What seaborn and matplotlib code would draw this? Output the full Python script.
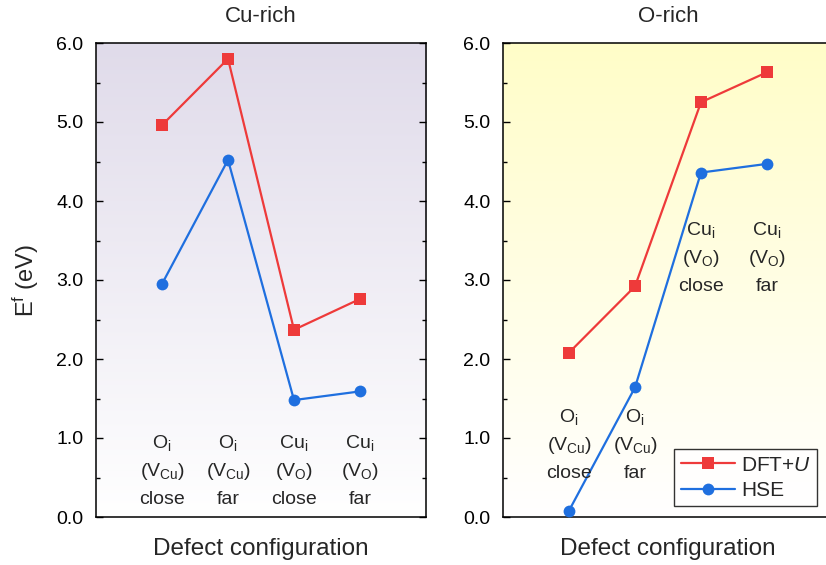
import numpy as np
import pandas as pd
import matplotlib
matplotlib.use("Agg")
import matplotlib.pyplot as plt
from matplotlib.colors import LinearSegmentedColormap
from matplotlib.ticker import MultipleLocator
import seaborn as sns

sns.set_theme(style="white")
plt.rcParams['font.family'] = ['Liberation Sans', 'DejaVu Sans']
plt.rcParams['mathtext.fontset'] = 'custom'
plt.rcParams['mathtext.rm'] = 'Liberation Sans'
plt.rcParams['mathtext.it'] = 'Liberation Sans:italic'
plt.rcParams['mathtext.bf'] = 'Liberation Sans:bold'

# ---- data ----
categories = ["Oi (VCu) close", "Oi (VCu) far", "Cui (VO) close", "Cui (VO) far"]
cu_rich_dftu = [4.96, 5.80, 2.37, 2.76]
cu_rich_hse = [2.95, 4.52, 1.48, 1.59]
o_rich_dftu = [2.08, 2.92, 5.25, 5.63]
o_rich_hse = [0.08, 1.64, 4.36, 4.47]
panel_titles = ["Cu-rich", "O-rich"]
series_names = ["DFT+U", "HSE"]
cat_lines = [
    [r"O$_{\rm i}$", r"(V$_{\rm Cu}$)", "close"],
    [r"O$_{\rm i}$", r"(V$_{\rm Cu}$)", "far"],
    [r"Cu$_{\rm i}$", r"(V$_{\rm O}$)", "close"],
    [r"Cu$_{\rm i}$", r"(V$_{\rm O}$)", "far"],
]
label_top_left = [0.87, 0.87, 0.87, 0.87]
label_top_right = [1.20, 1.20, 3.57, 3.57]
yticks = [0.0, 1.0, 2.0, 3.0, 4.0, 5.0, 6.0]

red = "#EE3A3A"
blue = "#1F6FDF"

def make_df(dftu, hse):
    rows = []
    for name, vals in zip(series_names, [dftu, hse]):
        for i, v in enumerate(vals):
            rows.append({"pos": i, "cat": categories[i], "E": v, "method": name})
    return pd.DataFrame(rows)

fig = plt.figure(figsize=(8.26, 5.65), dpi=100)
W, H = 826.0, 565.0
ax1 = fig.add_axes([96 / W, (H - 517) / H, 330 / W, 474 / H])
ax2 = fig.add_axes([503 / W, (H - 517) / H, 330 / W, 474 / H])

bg_tops = ["#E0DBEA", "#FFFDC8"]
panels = [(ax1, cu_rich_dftu, cu_rich_hse, label_top_left),
          (ax2, o_rich_dftu, o_rich_hse, label_top_right)]

for k, (ax, dftu, hse, tops) in enumerate(panels):
    cmap = LinearSegmentedColormap.from_list("bg", ["#FFFFFF", bg_tops[k]])
    grad = np.linspace(0, 1, 256).reshape(-1, 1)
    ax.imshow(grad, cmap=cmap, origin="lower", aspect="auto",
              extent=[0, 1, 0, 1], transform=ax.transAxes, zorder=0)
    df = make_df(dftu, hse)
    sns.lineplot(data=df, x="pos", y="E", hue="method", style="method",
                 palette={"DFT+U": red, "HSE": blue},
                 markers={"DFT+U": "s", "HSE": "o"}, dashes=False,
                 markersize=8.5, linewidth=1.6, markeredgewidth=0,
                 ax=ax, legend=(k == 1), zorder=3)
    ax.set_xlim(-1, 4)
    ax.set_ylim(0, 6)
    ax.set_xticks([])
    ax.set_yticks(yticks)
    ax.set_yticklabels([f"{t:.1f}" for t in yticks])
    ax.yaxis.set_minor_locator(MultipleLocator(0.5))
    ax.tick_params(axis="y", which="both", direction="in", left=True, right=True,
                   labelsize=14, colors="black", width=1.0)
    ax.tick_params(axis="y", which="major", length=5, pad=9)
    ax.tick_params(axis="y", which="minor", length=3)
    for s in ax.spines.values():
        s.set_color("black")
        s.set_linewidth(1.1)
    ax.set_xlabel("Defect configuration", fontsize=17.5, labelpad=15)
    ax.set_ylabel("")
    ax.set_title(panel_titles[k], fontsize=16, pad=15)
    for i, lines in enumerate(cat_lines):
        for j, line in enumerate(lines):
            ax.text(i, tops[i] - 0.355 * j, line, ha="center", va="baseline",
                    fontsize=14, zorder=4)

ax1.set_ylabel(r"E$^{\rm f}$ (eV)", fontsize=17, labelpad=11)

handles, labels = ax2.get_legend_handles_labels()
labels = [r"DFT+$\it{U}$" if l == "DFT+U" else l for l in labels]
leg = ax2.legend(handles, labels, loc="lower right", bbox_to_anchor=(0.952, 0.023),
                 fontsize=15, frameon=True, fancybox=False, edgecolor="black",
                 handlelength=2.6, handletextpad=0.3, borderpad=0.3,
                 labelspacing=0.3, borderaxespad=0.0)
leg.get_frame().set_linewidth(1.0)
leg.get_frame().set_facecolor("white")

fig.savefig("out.png", dpi=100)
